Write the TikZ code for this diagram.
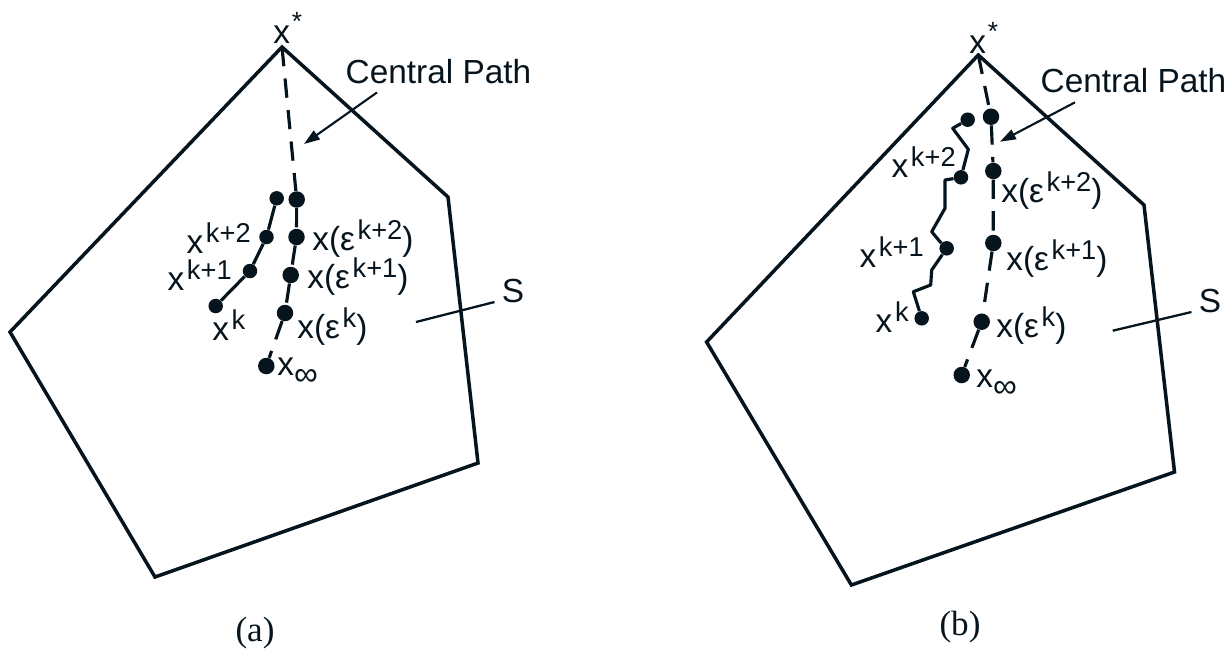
\documentclass[tikz,border=0pt]{standalone}
\usepackage{fontspec}
\setmainfont{Liberation Sans}
\newfontfamily\legfont{Liberation Serif}
\usetikzlibrary{arrows.meta}
\definecolor{Ctinta}{RGB}{6,20,30}
\newcommand{\hoch}[1]{\hspace{1.5pt}\raisebox{6pt}{\fontsize{15.5}{15}\selectfont #1}}
\newcommand{\tief}[1]{\raisebox{-6pt}{#1}}
\newcommand{\stern}{\hspace{1pt}\raisebox{7pt}{\fontsize{15}{15}\selectfont *}}

\begin{document}
\begin{tikzpicture}[x=0.02cm, y=-0.02cm,
      bordo/.style={draw=Ctinta, line width=2pt, line join=miter},
      pto/.style={circle, fill=Ctinta, inner sep=0pt, minimum size=0.29cm},
      ptc/.style={pto, minimum size=0.33cm},
      rot/.style={text=Ctinta, inner sep=0pt, font=\fontsize{19}{22}\selectfont},
      leg/.style={text=Ctinta, font=\legfont\fontsize{20}{24}\selectfont},
      trilha/.style={draw=Ctinta, line width=1.8pt, line join=round},
      central/.style={trilha, dash pattern=on 11pt off 7pt},
      fio/.style={draw=Ctinta, line width=1.3pt},
      seta/.style={draw=Ctinta, line width=1.2pt, -{Triangle[length=9pt,width=6pt]}}]
    \useasboundingbox (0,0) rectangle (1231,654);

    % (a) conjunto S
    \coordinate (Ta) at (282,47);
    \draw[bordo] (Ta) -- (448,197) -- (478,463) -- (155,577) -- (10,332) -- cycle;
    % (a) iterados
    \node[pto] (La1) at (215.7,306)   {};
    \node[pto] (La2) at (250,271)     {};
    \node[pto] (La3) at (266.5,237)   {};
    \node[pto] (La4) at (276.7,198.3) {};
    % (a) caminho central
    \node[ptc] (Ca1) at (296.7,199.5) {};
    \node[ptc] (Ca2) at (296.5,237)   {};
    \node[ptc] (Ca3) at (290.7,275)   {};
    \node[ptc] (Ca4) at (285,313)     {};
    \node[ptc] (Ca5) at (266.3,366)   {};
    \draw[trilha] (La1) -- (La2) -- (La3) -- (La4);
    \draw[central] (Ta) -- (Ca1) -- (Ca2) -- (Ca3) -- (Ca4) -- (Ca5);
    % (a) rotulos
    \node[rot, anchor=base west] (xsa) at (273,43)  {x\stern};
    \node[rot, anchor=base east] (tLa3) at (251,253)  {x\hoch{k+2}};
    \node[rot, anchor=base east] (tLa2) at (232,290) {x\hoch{k+1}};
    \node[rot, anchor=base west] (tLa1) at (212,340)  {x\hoch{k}};
    \node[rot, anchor=base west] (tCa2) at (312,250)  {x(ε\hoch{k+2})};
    \node[rot, anchor=base west] (tCa3) at (307,288)  {x(ε\hoch{k+1})};
    \node[rot, anchor=base west] (tCa4) at (297,338)  {x(ε\hoch{k})};
    \node[rot, anchor=base west] (tCa5) at (277,375)  {x\tief{∞}};
    \node[rot, anchor=base] (CPa) at (438.5,83) {Central Path};
    \coordinate (tipa) at (304,144);
    \draw[seta] ([xshift=18pt, yshift=-5pt]CPa.south west) -- (tipa);
    \node[rot, anchor=base] (Sa) at (513,302) {S};
    \coordinate (sa0) at (416,322);
    \draw[fio] (sa0) -- ([xshift=-4pt]Sa.base west);
    \node[leg] (capa) at (255,633) {(a)};

    % (b) conjunto S
    \coordinate (Tb) at (978.3,55);
    \draw[bordo] (Tb) -- (1144,205) -- (1174.5,472) -- (851.4,585) -- (706.6,342) -- cycle;
    % (b) iterados
    \node[pto] (Lb1) at (921.7,318.3) {};
    \node[pto] (Lb2) at (946.7,248.3) {};
    \node[pto] (Lb3) at (961,177.3)   {};
    \node[pto] (Lb4) at (967.7,119.7) {};
    % (b) caminho central
    \node[ptc] (Cb1) at (991,116.7)   {};
    \node[ptc] (Cb2) at (993.3,171)   {};
    \node[ptc] (Cb3) at (993.3,243)   {};
    \node[ptc] (Cb4) at (981.7,321.7) {};
    \node[ptc] (Cb5) at (961.7,375)   {};
    \draw[trilha] (Lb1) -- (913.3,291.7) -- (930.7,285) -- (931.7,270) -- (Lb2)
                  -- (940,241.7) -- (931.7,231.7) -- (945,208.3) -- (945,180) -- (Lb3)
                  -- (968.3,149.3) -- (952.7,128.3) -- (Lb4);
    \draw[central] (Tb) -- (Cb1) -- (Cb2) -- (Cb3) -- (Cb4) -- (Cb5);
    % (b) rotulos
    \node[rot, anchor=base west] (xsb) at (969,53)   {x\stern};
    \node[rot, anchor=base east] (tLb3) at (956,177)  {x\hoch{k+2}};
    \node[rot, anchor=base east] (tLb2) at (924,267)  {x\hoch{k+1}};
    \node[rot, anchor=base east] (tLb1) at (909,332)  {x\hoch{k}};
    \node[rot, anchor=base west] (tCb2) at (1001,202) {x(ε\hoch{k+2})};
    \node[rot, anchor=base west] (tCb3) at (1006,270) {x(ε\hoch{k+1})};
    \node[rot, anchor=base west] (tCb4) at (996,337)  {x(ε\hoch{k})};
    \node[rot, anchor=base west] (tCb5) at (976,387)  {x\tief{∞}};
    \node[rot, anchor=base] (CPb) at (1133.5,92) {Central Path};
    \coordinate (tipb) at (1000,141.7);
    \draw[seta] ([xshift=19.7pt, yshift=-5.5pt]CPb.south west) -- (tipb);
    \node[rot, anchor=base] (Sb) at (1210,312) {S};
    \coordinate (sb0) at (1112.7,330.7);
    \draw[fio] (sb0) -- ([xshift=-4pt]Sb.base west);
    \node[leg] (capb) at (960,627) {(b)};
  \end{tikzpicture}
\end{document}
